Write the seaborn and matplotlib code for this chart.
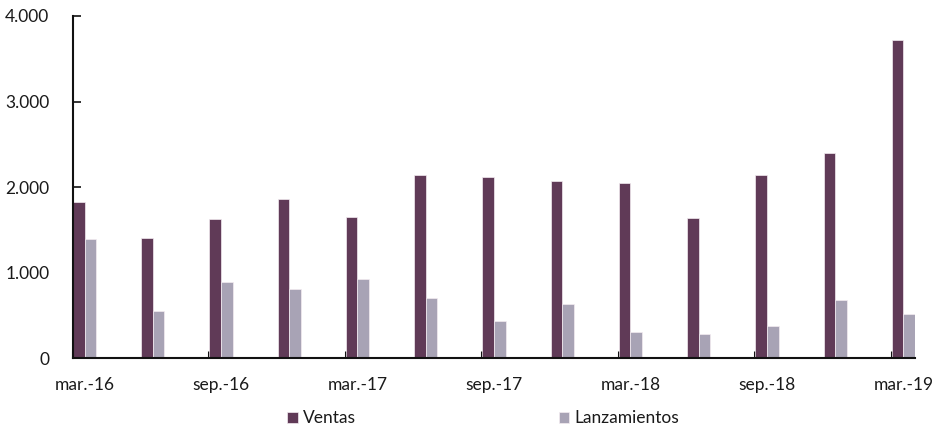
import matplotlib
matplotlib.use('Agg')
import matplotlib.pyplot as plt
import seaborn as sns
import pandas as pd
from matplotlib.ticker import FuncFormatter, FixedLocator

categorias = ['mar.-16', 'jun.-16', 'sep.-16', 'dic.-16', 'mar.-17', 'jun.-17', 'sep.-17',
              'dic.-17', 'mar.-18', 'jun.-18', 'sep.-18', 'dic.-18', 'mar.-19']
ventas = [1825, 1404, 1622, 1856, 1653, 2136, 2117, 2070, 2043, 1634, 2136, 2398, 3723]
lanzamientos = [1388, 550, 889, 811, 920, 702, 437, 628, 300, 281, 374, 675, 515]
series = ['Ventas', 'Lanzamientos']
colores = ['#603A57', '#A8A3B5']
yticks = [0, 1000, 2000, 3000, 4000]

df = pd.DataFrame({
    'periodo': categorias * 2,
    'serie': [series[0]] * len(categorias) + [series[1]] * len(categorias),
    'valor': ventas + lanzamientos,
})

sns.set_theme(style='white')
plt.rcParams['font.family'] = ['Lato', 'DejaVu Sans']

fs = 12.5
txt = '#1a1a1a'

fig = plt.figure(figsize=(9.35, 4.3), dpi=100)
ax = fig.add_axes([0.078, 0.1674, 0.9006, 0.7954])

sns.barplot(data=df, x='periodo', y='valor', hue='serie', order=categorias,
            hue_order=series, palette=colores, width=0.34, gap=0, saturation=1,
            edgecolor='#f3ecf1', linewidth=0.5, errorbar=None, ax=ax)

n = len(categorias)
half = 0.17
ax.set_xlim(-half, n - 1 + half)
ax.set_ylim(yticks[0], yticks[-1])

# labels every other category, centered on the group
ax.xaxis.set_major_locator(FixedLocator(list(range(0, n, 2))))
ax.set_xticklabels([categorias[i] for i in range(0, n, 2)])
ax.tick_params(axis='x', which='major', length=0, pad=14, labelsize=fs, labelcolor=txt)
# tick marks at the left edge of labelled groups
ax.xaxis.set_minor_locator(FixedLocator([i - half for i in range(0, n, 2)]))
ax.tick_params(axis='x', which='minor', direction='in', length=5, width=2.2, color='#111111', bottom=True)

ax.yaxis.set_major_locator(FixedLocator(yticks))
ax.yaxis.set_major_formatter(FuncFormatter(lambda v, p: f'{int(v):,}'.replace(',', '.')))
ax.tick_params(axis='y', direction='in', length=6, width=1.2, color='#111111', left=True,
               labelsize=fs, labelcolor=txt, pad=17)

for s in ['top', 'right']:
    ax.spines[s].set_visible(False)
for s in ['left', 'bottom']:
    ax.spines[s].set_color('#111111')
    ax.spines[s].set_linewidth(1.5)

ax.set_xlabel('')
ax.set_ylabel('')
ax.grid(False)

handles, labels = ax.get_legend_handles_labels()
if ax.get_legend() is not None:
    ax.get_legend().remove()
fig.legend(handles, labels, loc='center', bbox_to_anchor=(0.517, 0.027), ncol=2,
           frameon=False, fontsize=fs, handlelength=0.6, handleheight=0.6,
           handletextpad=0.3, columnspacing=11.7, labelcolor=txt)

fig.savefig('out.png', dpi=100)
